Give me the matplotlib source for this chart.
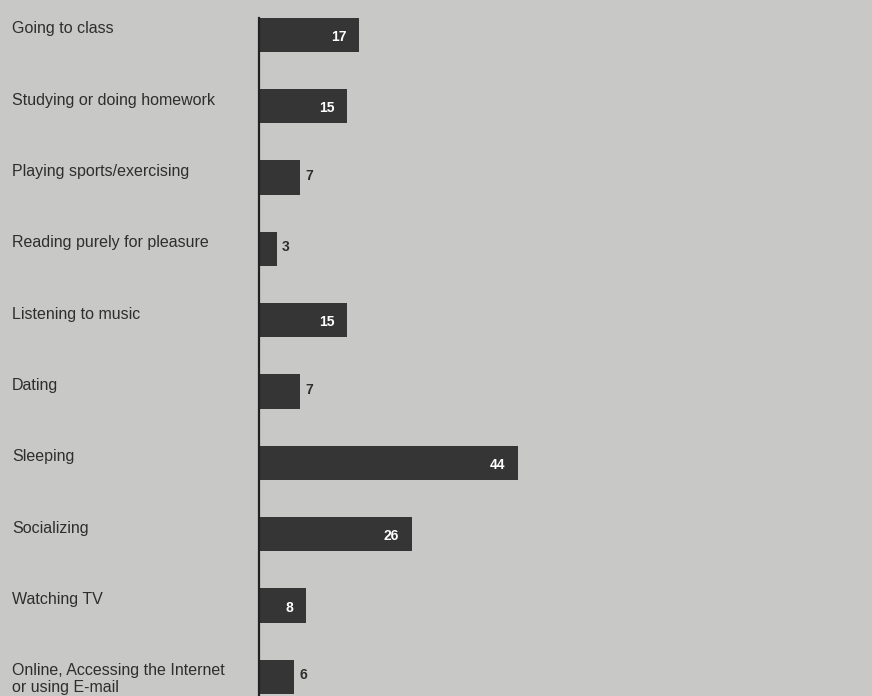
import matplotlib.pyplot as plt
import matplotlib.transforms as mtransforms
import numpy as np

plt.rcParams["font.family"] = ["Liberation Sans", "DejaVu Sans"]

# activities and hours per week
activities = [
    "Going to class",
    "Studying or doing homework",
    "Playing sports/exercising",
    "Reading purely for pleasure",
    "Listening to music",
    "Dating",
    "Sleeping",
    "Socializing",
    "Watching TV",
    "Online, Accessing the Internet\nor using E-mail",
]
hours = [17, 15, 7, 3, 15, 7, 44, 26, 8, 6]

bg = "#c8c8c6"
bar_color = "#353535"
text_color = "#2e2e2e"

fig = plt.figure(figsize=(8.72, 6.96), dpi=100, facecolor=bg)
ax = fig.add_axes([259 / 872, 0, 1 - 259 / 872, 1])
ax.set_facecolor(bg)

y = np.arange(len(activities))
ax.barh(y, hours, height=0.48, color=bar_color, zorder=2)

ax.set_xlim(0, 104)
ax.set_ylim(9.27, -0.49)

for s in ["top", "right", "bottom"]:
    ax.spines[s].set_visible(False)
ax.spines["left"].set_color("#222222")
ax.spines["left"].set_linewidth(1.6)
ax.spines["left"].set_bounds(-0.24, 9.27)
ax.set_xticks([])
ax.set_yticks([])

# category labels at the left edge of the figure, top-aligned with the bars
label_trans = mtransforms.blended_transform_factory(fig.transFigure, ax.transData)
for i, name in enumerate(activities):
    ax.text(12 / 872, i - 0.19, name, transform=label_trans,
            ha="left", va="top", fontsize=11.5, color=text_color,
            linespacing=1.15)

# value labels: inside the longer bars, outside the short ones
for i, v in enumerate(hours):
    if v >= 8:
        ax.text(v - 2.2, i + 0.03, str(v), ha="right", va="center",
                fontsize=10, fontweight="bold", color="white", zorder=3)
    else:
        ax.text(v + 0.8, i - 0.02, str(v), ha="left", va="center",
                fontsize=10, fontweight="bold", color=text_color, zorder=3)

fig.savefig("out.png", dpi=100, facecolor=bg)
